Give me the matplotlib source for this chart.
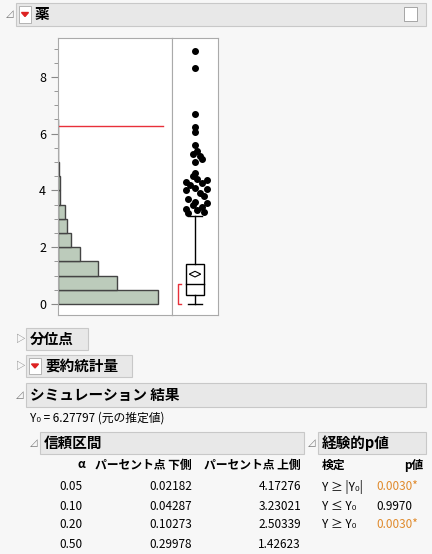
import matplotlib
matplotlib.use("Agg")
import matplotlib.pyplot as plt
from matplotlib.patches import Rectangle, Polygon

plt.rcParams['font.family'] = ['Noto Sans CJK JP', 'DejaVu Sans']

W, H = 432, 554

# histogram bins (0.5 wide) and relative counts
bin_lo = [0, 0.5, 1.0, 1.5, 2.0, 2.5, 3.0, 3.5, 4.0, 4.5, 5.0, 5.5, 6.0]
counts = [100, 59, 40, 22, 13, 9, 7, 2, 2, 0.6, 0.4, 0.3, 0.3]
y0_est = 6.27797

# box plot summary
q1, med, q3, wlo, whi, mean = 0.3, 0.7, 1.4, 0.0, 3.1, 1.05
outliers = [3.2, 3.25, 3.3, 3.35, 3.4, 3.5, 3.55, 3.6, 3.7, 3.8, 3.9, 4.0, 4.05,
            4.1, 4.2, 4.25, 4.3, 4.35, 4.4, 4.5, 4.6, 5.0, 5.1, 5.2, 5.3, 5.4,
            5.6, 6.05, 6.25, 6.7, 8.3, 8.9]
jitter = [-0.3, 0.4, 0.1, -0.4, 0.3, -0.1, 0.5, 0.0, -0.3, 0.4, 0.2, -0.4, 0.5,
          0.0, -0.2, 0.3, -0.4, 0.5, 0.1, -0.1, 0.0, 0.0, 0.3, 0.2, -0.1, 0.1,
          0.0, 0.0, 0.0, 0.0, 0.0, 0.0]

alphas = ["0.05", "0.10", "0.20", "0.50"]
lower = ["0.02182", "0.04287", "0.10273", "0.29978"]
upper = ["4.17276", "3.23021", "2.50339", "1.42623"]
tests = ["Y ≥ |Y₀|", "Y ≤ Y₀", "Y ≥ Y₀"]
pvals = ["0.0030*", "0.9970", "0.0030*"]
pcolor = ["#e08a2c", "black", "#e08a2c"]

fig = plt.figure(figsize=(W / 100, H / 100), dpi=100)
fig.patch.set_facecolor("#f7f7f7")

def ax_px(x, y, w, h):
    return fig.add_axes([x / W, 1 - (y + h) / H, w / W, h / H])

# overlay axis in pixel coords for headers/text
ov = fig.add_axes([0, 0, 1, 1])
ov.set_xlim(0, W); ov.set_ylim(H, 0); ov.axis("off")

def header(x, y, w, h, text, red=False, size=10.5, closed=False):
    ov.add_patch(Rectangle((x, y), w, h, fc="#e8e8e8", ec="#c8c8c8", lw=0.8))
    ov.text(x - 10, y + h / 2, "▷" if closed else "◿", fontsize=7, color="#777", va="center")
    tx = x + 4
    if red:
        ov.add_patch(Rectangle((x + 3, y + 3), 12, h - 6, fc="white", ec="#aaa", lw=0.6))
        ov.add_patch(Polygon([(x + 5.5, y + h / 2 - 2), (x + 12.5, y + h / 2 - 2), (x + 9, y + h / 2 + 2)], color="#d22"))
        tx = x + 19
    ov.text(tx, y + h / 2, text, fontsize=size, fontweight="bold", va="center")

header(16, 3, 410, 23, "薬", red=True)
ov.add_patch(Rectangle((404, 7), 13, 14, fc="white", ec="#999", lw=0.6))
header(26, 328, 62, 22, "分位点", closed=True)
header(26, 355, 106, 22, "要約統計量", red=True, closed=True)
header(26, 383, 400, 24, "シミュレーション 結果")
header(40, 432, 264, 22, "信頼区間")
header(318, 432, 108, 22, "経験的p値")

# histogram
ymin, ymax = -0.39, 9.37
ah = ax_px(58, 38, 114, 277)
ah.barh(bin_lo, counts, height=0.5, align="edge", color="#bccbbb", edgecolor="#444", lw=1)
ah.plot([0, 105], [y0_est, y0_est], color="#e8303a", lw=1)
ah.set_xlim(0, 114); ah.set_ylim(ymin, ymax)
ah.set_xticks([])
ah.set_yticks([0, 2, 4, 6, 8])
ah.set_yticks([1, 3, 5, 7, 9] + [x / 2 for x in range(1, 19, 2)], minor=True)
ah.tick_params(axis="y", labelsize=9, color="#888", length=5)
ah.tick_params(axis="y", which="minor", color="#888", length=3)
for s in ah.spines.values():
    s.set_color("#aaa")

# box plot
ab = ax_px(172, 38, 46, 277)
ab.set_xlim(-1, 1); ab.set_ylim(ymin, ymax)
ab.set_xticks([]); ab.set_yticks([])
for s in ab.spines.values():
    s.set_color("#aaa")
ab.add_patch(Rectangle((-0.4, q1), 0.8, q3 - q1, fc="white", ec="black", lw=1))
ab.plot([-0.4, 0.4], [med, med], color="black", lw=1)
ab.plot([0, 0], [q3, whi], color="black", lw=1)
ab.plot([0, 0], [wlo, q1], color="black", lw=1)
ab.plot([-0.3, 0.3], [whi, whi], color="black", lw=1)
ab.plot([-0.3, 0.3], [wlo, wlo], color="black", lw=1)
ab.add_patch(Polygon([(-0.25, mean), (0, mean + 0.1), (0.25, mean), (0, mean - 0.1)], fc="none", ec="black", lw=0.8))
ab.plot([-0.6, -0.75, -0.75, -0.6], [wlo, wlo, med, med], color="#e8303a", lw=1)
ab.scatter(jitter, outliers, s=16, color="black", zorder=3)

# text
ov.text(30, 418, "Y₀ = 6.27797 (元の推定値)", fontsize=8.5, va="center")
fs = 8.5
ov.text(85, 465, "α", fontsize=fs, fontweight="bold", ha="right", va="center")
ov.text(192, 465, "パーセント点 下側", fontsize=fs, fontweight="bold", ha="right", va="center")
ov.text(301, 465, "パーセント点 上側", fontsize=fs, fontweight="bold", ha="right", va="center")
for i in range(len(alphas)):
    y = 487 + i * 19
    ov.text(82, y, alphas[i], fontsize=fs, ha="right", va="center")
    ov.text(192, y, lower[i], fontsize=fs, ha="right", va="center")
    ov.text(301, y, upper[i], fontsize=fs, ha="right", va="center")
ov.text(322, 465, "検定", fontsize=fs, fontweight="bold", va="center")
ov.text(423, 465, "p値", fontsize=fs, fontweight="bold", ha="right", va="center")
for i in range(len(tests)):
    y = 487 + i * 19
    ov.text(322, y, tests[i], fontsize=fs, va="center")
    ov.text(376, y, pvals[i], fontsize=fs, color=pcolor[i], va="center")

fig.savefig("out.png", dpi=100, facecolor=fig.get_facecolor())
